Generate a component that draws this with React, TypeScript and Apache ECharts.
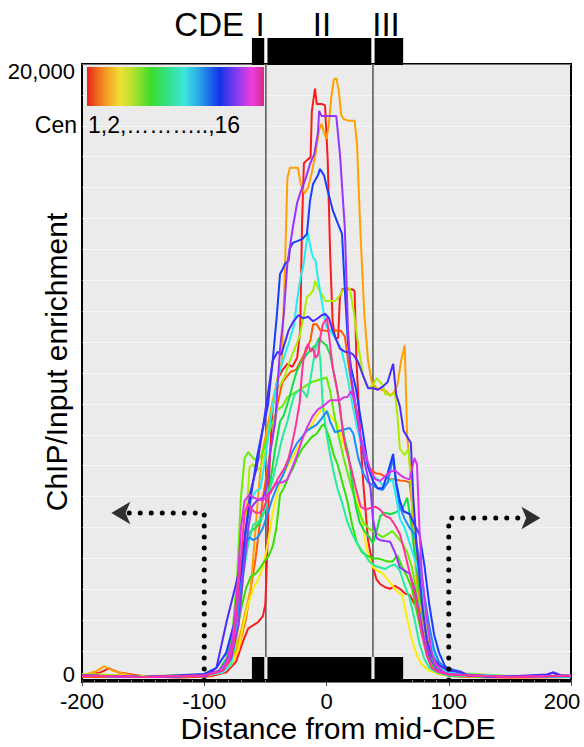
import React, { useEffect, useRef } from "react";
import * as echarts from "echarts";

// ---- axis / tick data ----
const xMin = -200;
const xMax = 200;
const xInterval = 100;
const yMin = -66;
const yMax = 20263;
const yTickValues = [0, 20000];
const yTickLabels = ["0", "20,000"];

// ---- CDE element boundaries (distance from mid-CDE) ----
const cdeEdges = [-61, -49.6, 38, 62.7];
const cdeLabels = ["I", "II", "III"];

// ---- dotted arrow paths ----
const leftArrowPath = [[-100, 0], [-100, 5493], [-163, 5493]];
const rightArrowPath = [[100, 0], [100, 5329], [163, 5329]];
const leftArrowTip = [[-176, 5493]];
const rightArrowTip = [[175, 5329]];

// ---- series ----
const cenNames = [
  "Cen1", "Cen2", "Cen3", "Cen4", "Cen5", "Cen6", "Cen7", "Cen8",
  "Cen9", "Cen10", "Cen11", "Cen12", "Cen13", "Cen14", "Cen15", "Cen16",
];
const cenColors = [
  "#ff1a1a", "#ff5a00", "#ffa200", "#ffee00", "#aaee00", "#66ee00", "#33e000", "#11dd44",
  "#22ee99", "#22eeee", "#1a8cff", "#1a3cff", "#4a2cff", "#9933ff", "#dd33ee", "#ff3399",
];

const cen1 = [[-200,120],[-185,250],[-178,380],[-170,250],[-150,120],[-120,80],[-95,120],[-82,250],[-74,600],[-68,1300],[-64,1700],[-60,1800],[-56,1900],[-52,2100],[-50,2500],[-48.5,4200],[-46.5,7200],[-44,9000],[-40,9900],[-36,10200],[-32,10400],[-28,10300],[-24,10600],[-21.5,11500],[-20,15000],[-18.5,17000],[-16,17100],[-13,17200],[-12,18700],[-11,19000],[-9.4,19450],[-8,18950],[-4,18950],[-1.2,18900],[1,17100],[3,14000],[5,11800],[7,11250],[9.5,11250],[11,12600],[13,12850],[21,12850],[23,12800],[24.5,10500],[27,8500],[30,6500],[34,4600],[38,3700],[41,3300],[44,3150],[48,3050],[52,3000],[56,3100],[60,3000],[64,2850],[68,2800],[72,2500],[76,2350],[80,1900],[84,1000],[88,500],[93,250],[100,130],[120,100],[150,80],[200,100]];
const cen2 = [[-200,100],[-150,100],[-100,130],[-86,250],[-78,500],[-72,1000],[-66,2000],[-62,3000],[-58,4000],[-55,5000],[-52,6000],[-48,7000],[-44,8000],[-40,9100],[-36,9800],[-32,10000],[-29,10150],[-25,10200],[-21,10500],[-17,10800],[-13,11200],[-11,11700],[-8,11700],[-5,11500],[-2,11500],[1,11480],[4,11500],[8,11500],[12,11480],[15,11300],[18,10400],[22,9300],[27,8100],[31,7300],[35,6980],[40,6800],[44,6780],[48,6700],[52,6600],[56,6600],[60,6560],[64,6550],[68,6500],[70,5800],[73,4500],[76,3000],[80,1800],[84,900],[88,500],[94,250],[100,150],[150,100],[200,100]];
const cen3 = [[-200,150],[-188,300],[-182,450],[-174,300],[-160,150],[-120,100],[-95,150],[-85,300],[-78,600],[-74,1000],[-70,1600],[-66,2300],[-62,3000],[-58,5000],[-55,6500],[-52,7600],[-48,8400],[-44,9200],[-40,9900],[-36.5,10500],[-34,13500],[-32,16500],[-30,16850],[-27,16850],[-23.5,16850],[-21,16300],[-18,16000],[-15,16200],[-12,16700],[-9,17300],[-6,18100],[-4,18300],[-2,18000],[0,17800],[2,18300],[4,19200],[6,19750],[8,19800],[10,19400],[12,18600],[14,18450],[18,18400],[23,18400],[25,17600],[26.5,16000],[28,14500],[31,12000],[34,10500],[37,9800],[41,9600],[45,9550],[49,9500],[52,9350],[55,9450],[58,9700],[61,10500],[64,11000],[66,8000],[68.4,7000],[71,4800],[74,3200],[78,1800],[82,900],[86,400],[92,200],[100,150],[120,100],[160,80],[200,100]];
const cen4 = [[-200,200],[-150,120],[-100,150],[-85,250],[-78,500],[-72,1000],[-68,1800],[-64,2500],[-60,3000],[-56,3300],[-52,3700],[-48,4500],[-44,5500],[-40,6200],[-36,6700],[-32,7000],[-28,7300],[-24,7600],[-20,7900],[-16,8200],[-12,8400],[-8,8700],[-3,8950],[1,8800],[5,8600],[9,8400],[13,7900],[17,7400],[21,6800],[25,6000],[29,5200],[33,4300],[38,3700],[42,3600],[46,3500],[50,3300],[54,3100],[58,2900],[62,2800],[66,2000],[70,1300],[74,800],[78,500],[84,300],[92,200],[100,150],[150,100],[200,120]];
const cen5 = [[-200,200],[-150,120],[-100,180],[-85,300],[-78,600],[-74,1200],[-70,2500],[-66,5000],[-63,7000],[-60,7100],[-57,6900],[-54,7000],[-50,7500],[-46,8600],[-42,9400],[-38,9700],[-34,10000],[-30,10500],[-26,10900],[-22,11300],[-19,11900],[-16,12600],[-13,12700],[-11,12800],[-9.4,13127],[-7,12900],[-4,12700],[-1,12470],[3,12470],[7,12470],[10,12600],[13,12800],[17,12900],[19,12880],[22,12200],[26,11000],[30,10000],[34,9600],[38,9700],[41,9930],[44,9800],[46,9700],[48,9400],[52,9400],[56,9400],[58,8700],[60,7600],[64,7400],[67,7600],[70,6000],[74,4200],[78,2900],[82,1800],[86,1000],[92,400],[100,250],[150,130],[200,150]];
const cen6 = [[-200,150],[-150,100],[-100,150],[-88,300],[-82,600],[-77,1500],[-73,3500],[-70,6000],[-67,7300],[-64,7500],[-60,7300],[-56,7200],[-52,7500],[-48,8000],[-44,8500],[-40,8900],[-36,9000],[-32,9300],[-28,9400],[-24,9500],[-20,9600],[-16,9700],[-12,9800],[-8,9850],[-4,9900],[0,9950],[3,9500],[6,8800],[10,8000],[14,7300],[18,6700],[22,6100],[26,5600],[30,5200],[34,5000],[38,4900],[42,4800],[46,4700],[50,4800],[54,4900],[58,4700],[62,4500],[66,4200],[70,3700],[74,2800],[78,1700],[82,1000],[87,500],[92,280],[100,170],[150,100],[200,130]];
const cen7 = [[-200,150],[-150,100],[-100,150],[-88,300],[-82,700],[-78,1100],[-74,1400],[-70,2300],[-66,3000],[-62,3400],[-58,3500],[-54,3700],[-51,3900],[-47,4100],[-44,4400],[-41,5000],[-38,6100],[-35,6300],[-31,6700],[-27,7000],[-24,7300],[-20,7600],[-16,7800],[-12,8000],[-8,8100],[-4,8350],[-2,8420],[2,8000],[6,7400],[9,7100],[13,6500],[17,5900],[21,5100],[25,4500],[29,4200],[33,4100],[38,4000],[42,4000],[46,3950],[50,3900],[54,3900],[58,4100],[62,3700],[66,3400],[70,3000],[74,2200],[78,1500],[82,900],[86,500],[92,250],[100,150],[150,100],[200,120]];
const cen8 = [[-200,150],[-150,100],[-100,150],[-88,300],[-82,700],[-76,1500],[-72,2700],[-68,4000],[-65,4700],[-62,4900],[-58,5000],[-54,5200],[-50,5700],[-46,6500],[-42,7600],[-38,8500],[-35,8700],[-31,9200],[-27,9800],[-24,10200],[-20,10500],[-16,10720],[-12,10900],[-9,11000],[-6,11250],[-3,11100],[0,11000],[3,10700],[6,10100],[9,9500],[12,8600],[15,7900],[18,7400],[21,6500],[24,5700],[27,5200],[31,4900],[35,4700],[38,4500],[41,4900],[44,5400],[48,5500],[52,5450],[56,5500],[60,5600],[63,5700],[66,6000],[69,5200],[72,4200],[76,3000],[80,1800],[84,900],[88,500],[94,250],[100,150],[150,100],[200,130]];
const cen9 = [[-200,150],[-150,100],[-100,150],[-88,250],[-82,500],[-76,1000],[-72,2000],[-68,3500],[-64,4500],[-60,5100],[-56,5200],[-52,5400],[-48,6000],[-44,6600],[-40,7300],[-36,8000],[-32,8500],[-29,9000],[-26,9400],[-22,9550],[-19,9500],[-16,9300],[-14,9700],[-11,10400],[-9,10900],[-7,11150],[-5,10500],[-3,9000],[0,8100],[3,7400],[6,6800],[9,6300],[13,5800],[17,5200],[21,4800],[25,4500],[30,4200],[35,3900],[40,3750],[44,3700],[48,3650],[52,3750],[56,3800],[60,3600],[64,3100],[68,2700],[72,2000],[76,1200],[80,700],[84,400],[90,250],[100,150],[150,100],[200,120]];
const cen10 = [[-200,150],[-150,100],[-100,150],[-85,250],[-78,500],[-74,1500],[-70,3000],[-66,4800],[-62,5900],[-58,6200],[-54,6300],[-50,7300],[-46,8500],[-42,9500],[-38,10200],[-34,10700],[-30,11200],[-27,11600],[-24,12500],[-21,13300],[-19,13600],[-17,14200],[-15.2,14706],[-13,14200],[-11,13900],[-9,13800],[-7,13200],[-4,12500],[-2,12000],[0,11600],[3,11500],[6,11300],[9,11100],[12,10900],[15,10400],[17,10000],[20,9300],[25,8300],[30,7500],[34,7000],[38,6700],[42,6600],[46,6400],[50,6500],[54,6600],[57,6000],[60,5300],[64,5000],[68,4500],[72,4000],[76,3500],[80,2500],[84,1500],[88,800],[94,400],[100,250],[110,200],[150,120],[200,100]];
const cen11 = [[-200,150],[-150,100],[-100,150],[-88,300],[-82,600],[-78,1000],[-74,1800],[-70,3000],[-66,4500],[-63,4700],[-60,4600],[-56,4700],[-52,5000],[-48,5500],[-44,6000],[-40,6400],[-36,6700],[-32,7100],[-28,7500],[-24,7800],[-20,8000],[-16,8200],[-12,8300],[-8,8400],[-4,8600],[0.4,8850],[3,8500],[7,8150],[11,8200],[15,8250],[19,8290],[22,8100],[26,7300],[30,6800],[34,6500],[38,6400],[42,6300],[46,6250],[50,6500],[54.5,7300],[57,6400],[60,5700],[64,5300],[68,5000],[72,4800],[76,4000],[80,2800],[84,1800],[88,1000],[92,600],[97,400],[103,350],[108,300],[114,180],[140,100],[200,120]];
const cen12 = [[-200,150],[-150,100],[-100,200],[-90,400],[-82,900],[-76,1800],[-70,3500],[-66,5000],[-62,6000],[-57,7300],[-52,8300],[-48,9000],[-44,10500],[-40.6,12000],[-38,13357],[-36,13500],[-34,13690],[-31,13800],[-29.9,14200],[-27.5,14380],[-23.4,14443],[-20,14500],[-16,14673],[-13.5,15760],[-11,16318],[-7,16600],[-5.3,16812],[-2,16600],[0.4,16187],[5.3,15430],[9.4,15002],[12.7,14673],[15.2,12700],[17.6,11054],[20,10300],[24,9600],[30,8093],[34,7000],[38,6547],[42,6300],[46,6317],[50,6800],[54.5,7435],[57,6500],[60,5900],[63,5550],[68,5460],[72,5100],[76,4800],[80,3800],[84,2500],[88,1500],[92,900],[97,450],[104,300],[110,250],[115,150],[140,100],[180,150],[185,250],[190,150],[200,120]];
const cen13 = [[-200,150],[-150,100],[-98,130],[-90,400],[-81.6,1940],[-73.4,3257],[-68.4,4244],[-64.3,5460],[-62.7,6119],[-57,7000],[-52,8300],[-48,9400],[-44,10500],[-40,10800],[-37,10700],[-34,11100],[-31,11500],[-27,11800],[-23,12000],[-19,11900],[-15,11950],[-11,11800],[-7,11900],[-4,12000],[-1,12040],[2,11900],[5,11500],[8,11200],[11,10900],[15,10800],[19,10780],[22,10700],[26,10450],[30,10000],[34,9600],[38,9600],[42,9550],[46,9650],[50,9800],[54.5,10400],[57,9400],[60,9000],[63,8200],[66,8000],[69,7800],[71,6000],[74,4300],[78,2600],[82,1300],[86,800],[92,500],[100,300],[110,270],[116,150],[140,100],[180,180],[186,250],[192,150],[200,120]];
const cen14 = [[-200,150],[-150,100],[-100,150],[-85,300],[-78,700],[-72,1800],[-68,3500],[-64,5000],[-61,5700],[-57,5900],[-52,6000],[-49,6300],[-46,7500],[-42,8500],[-38,10900],[-35,12000],[-32,13700],[-27.5,14900],[-24,15700],[-21.7,15990],[-17,16500],[-13.5,16976],[-10,17300],[-7,18000],[-6,18720],[-4,18550],[0,18550],[4,18550],[8,18556],[11,17300],[15,14870],[17.6,11500],[20,10000],[24,9000],[28,7900],[32,7000],[36,6300],[38,5300],[41,4670],[44,4600],[48,4570],[52,4550],[56,4200],[60,3700],[64,3600],[68,3500],[72,3000],[76,2200],[80,1300],[85,700],[90,350],[100,200],[150,100],[200,150]];
const cen15 = [[-200,150],[-150,100],[-100,150],[-88,300],[-82,600],[-77,1300],[-73,3000],[-70,5000],[-67,5900],[-63,6100],[-60,6000],[-56,5950],[-52,5900],[-48,6100],[-44,6300],[-40,6500],[-36,6500],[-32,6600],[-28,7000],[-24,7400],[-20,7900],[-16,8300],[-11,8700],[-7,8900],[-3,9000],[0,9100],[3,9200],[7,9200],[11,9200],[14,9300],[17,9300],[20,9500],[23,9200],[25,8800],[28,8000],[32,7400],[36,6900],[40,6600],[44,6550],[48,6700],[52,6850],[56,6900],[60,6750],[64,6650],[68,6600],[72,7300],[74,7100],[76,5000],[78,3500],[82,2000],[86,900],[90,500],[96,250],[100,180],[150,100],[200,150]];
const cen16 = [[-200,150],[-150,100],[-100,150],[-85,300],[-80,600],[-76,1200],[-73,2500],[-70,4000],[-67,5500],[-64,5800],[-61,5600],[-58,5500],[-55,5500],[-52,5600],[-48,6000],[-44,6300],[-40,6600],[-37,6800],[-34,7000],[-31,7300],[-28,7800],[-25,8400],[-22,9100],[-20,10100],[-19,10500],[-17,10900],[-15,11050],[-13,10800],[-11,10900],[-9,10600],[-7,10700],[-5,11300],[-3,11700],[0.4,11910],[3,11000],[5,10300],[8,9700],[11,9000],[13.5,8100],[16,7600],[20,7000],[24,6300],[28,5700],[32,5600],[36,5660],[40,5700],[44,5600],[48,5400],[52,5330],[56,5100],[60,4800],[64,4200],[67,3700],[70,3200],[74,2500],[78,1500],[82,800],[86,400],[92,250],[100,180],[150,100],[200,130]];

const cenData = [cen1, cen2, cen3, cen4, cen5, cen6, cen7, cen8, cen9, cen10, cen11, cen12, cen13, cen14, cen15, cen16];

const FONT = "'Liberation Sans', Arial, Helvetica, sans-serif";

export default function App() {
  const ref = useRef<HTMLDivElement>(null);

  useEffect(() => {
    if (!ref.current) return;
    const chart = echarts.init(ref.current, undefined, { renderer: "svg" });

    const lineSeries = cenData.map((d, i) => ({
      name: cenNames[i],
      type: "line",
      data: d,
      showSymbol: false,
      symbol: "none",
      lineStyle: { color: cenColors[i], width: 2 },
      z: 2,
      silent: true,
    }));

    const option: any = {
      animation: false,
      backgroundColor: "#ffffff",
      grid: {
        left: 82,
        right: 13,
        top: 64,
        bottom: 65,
        show: true,
        backgroundColor: "#ebebeb",
        borderColor: "#000",
        borderWidth: 2,
        containLabel: false,
        outerBoundsMode: "none",
      },
      xAxis: {
        type: "value",
        min: xMin,
        max: xMax,
        interval: xInterval,
        axisLine: { show: true, lineStyle: { color: "#000", width: 2 } },
        axisTick: { show: true, inside: false, length: 6, lineStyle: { color: "#444", width: 1 } },
        minorTick: { show: true, splitNumber: 10, length: 3, lineStyle: { color: "#777", width: 1 } },
        splitLine: { show: false },
        minorSplitLine: { show: false },
        axisLabel: {
          fontSize: 22,
          color: "#000",
          margin: 8,
          fontFamily: FONT,
          formatter: (v: number) => (v === xMax ? "{e|" + v + "}" : "{n|" + v + "}"),
          rich: {
            n: { fontSize: 22, fontFamily: FONT, color: "#000" },
            e: { fontSize: 22, fontFamily: FONT, color: "#000", padding: [0, 18, 0, 0] },
          },
        },
      },
      yAxis: [
        {
          type: "value",
          min: yMin,
          max: yMax,
          axisLine: { show: false },
          axisTick: { show: false },
          splitLine: { show: false },
          axisLabel: {
            customValues: yTickValues,
            fontSize: 22,
            color: "#000",
            margin: 7,
            fontFamily: FONT,
            formatter: (v: number) => {
              const idx = yTickValues.indexOf(v);
              const t = idx >= 0 ? yTickLabels[idx] : "";
              return v === 0 ? "{z|" + t + "}" : "{m|" + t + "}";
            },
            rich: {
              z: { fontSize: 22, fontFamily: FONT, color: "#000", padding: [0, 0, 10, 0] },
              m: { fontSize: 22, fontFamily: FONT, color: "#000" },
            },
          },
        },
        {
          type: "value",
          min: 0,
          max: 20000,
          interval: 1000,
          position: "right",
          axisLine: { show: false },
          axisTick: { show: false },
          axisLabel: { show: false },
          splitLine: { show: true, lineStyle: { color: "rgba(255,255,255,0.45)", width: 1 } },
        },
      ],
      series: [
        {
          name: "cde-guides",
          type: "custom",
          data: [[cdeEdges[1]], [cdeEdges[2]]],
          encode: { x: 0 },
          clip: false,
          silent: true,
          z: 1,
          renderItem: (params: any, api: any) => {
            const cs = params.coordSys;
            const x = api.coord([api.value(0), 0])[0];
            return {
              type: "line",
              shape: { x1: x, y1: cs.y, x2: x, y2: cs.y + cs.height - 25 },
              style: { stroke: "#555", lineWidth: 1.5 },
            };
          },
        },
        ...lineSeries,
        {
          name: "cde-bars",
          type: "custom",
          data: [
            [cdeEdges[0], cdeEdges[1]],
            [cdeEdges[1], cdeEdges[2]],
            [cdeEdges[2], cdeEdges[3]],
          ],
          encode: { x: [0, 1] },
          clip: false,
          silent: true,
          z: 5,
          renderItem: (params: any, api: any) => {
            const cs = params.coordSys;
            const i = params.dataIndex;
            const gap = 1.6;
            const x0 = api.coord([api.value(0), 0])[0] + (i > 0 ? gap : 0);
            const x1 = api.coord([api.value(1), 0])[0] - (i < 2 ? gap : 0);
            const yb = cs.y + cs.height;
            const yt = cs.y;
            return {
              type: "group",
              children: [
                { type: "rect", shape: { x: x0, y: yb - 25, width: x1 - x0, height: 25 }, style: { fill: "#000" } },
                { type: "rect", shape: { x: x0, y: yt - 26, width: x1 - x0, height: 27 }, style: { fill: "#000" } },
              ],
            };
          },
        },
        {
          name: "left-dots",
          type: "line",
          data: leftArrowPath,
          showSymbol: false,
          symbol: "none",
          silent: true,
          z: 6,
          lineStyle: { color: "#000", width: 5, type: [0, 11], cap: "round" },
        },
        {
          name: "right-dots",
          type: "line",
          data: rightArrowPath,
          showSymbol: false,
          symbol: "none",
          silent: true,
          z: 6,
          lineStyle: { color: "#000", width: 5, type: [0, 11], cap: "round" },
        },
        {
          name: "left-arrow",
          type: "scatter",
          data: leftArrowTip,
          symbol: "arrow",
          symbolSize: [17, 19],
          symbolRotate: 90,
          itemStyle: { color: "#000" },
          silent: true,
          z: 6,
        },
        {
          name: "right-arrow",
          type: "scatter",
          data: rightArrowTip,
          symbol: "arrow",
          symbolSize: [17, 19],
          symbolRotate: -90,
          itemStyle: { color: "#000" },
          silent: true,
          z: 6,
        },
      ],
      graphic: [
        {
          type: "rect",
          z: 10,
          shape: { x: 87, y: 67, width: 177, height: 39 },
          style: {
            fill: new echarts.graphic.LinearGradient(0, 0, 1, 0, [
              { offset: 0, color: "#e8201c" },
              { offset: 0.06, color: "#f06a1e" },
              { offset: 0.12, color: "#f5a623" },
              { offset: 0.19, color: "#eee234" },
              { offset: 0.27, color: "#a8e22e" },
              { offset: 0.36, color: "#3ddc2a" },
              { offset: 0.46, color: "#33e08a" },
              { offset: 0.55, color: "#3ee8dc" },
              { offset: 0.63, color: "#2aa8e8" },
              { offset: 0.75, color: "#1232e8" },
              { offset: 0.85, color: "#8a3cf0" },
              { offset: 0.93, color: "#f03ce0" },
              { offset: 1, color: "#d42e8a" },
            ]),
          },
        },
        {
          type: "text", z: 10, x: 77, y: 125,
          style: { text: "Cen", fontSize: 23, fontFamily: FONT, fill: "#000", textAlign: "right", textVerticalAlign: "middle" },
        },
        {
          type: "text", z: 10, x: 88, y: 125,
          style: { text: "1,2,………..,16", fontSize: 23, fontFamily: FONT, fill: "#000", textAlign: "left", textVerticalAlign: "middle" },
        },
        {
          type: "text", z: 10, x: 244, y: 24,
          style: { text: "CDE", fontSize: 33, fontFamily: FONT, fill: "#000", textAlign: "right", textVerticalAlign: "middle" },
        },
        {
          type: "text", z: 10, x: 260, y: 24,
          style: { text: cdeLabels[0], fontSize: 33, fontFamily: FONT, fill: "#000", textAlign: "center", textVerticalAlign: "middle" },
        },
        {
          type: "text", z: 10, x: 322, y: 24,
          style: { text: cdeLabels[1], fontSize: 33, fontFamily: FONT, fill: "#000", textAlign: "center", textVerticalAlign: "middle" },
        },
        {
          type: "text", z: 10, x: 386, y: 24,
          style: { text: cdeLabels[2], fontSize: 33, fontFamily: FONT, fill: "#000", textAlign: "center", textVerticalAlign: "middle" },
        },
        {
          type: "text", z: 10, x: 56, y: 362, rotation: Math.PI / 2,
          style: { text: "ChIP/Input enrichment", fontSize: 30, fontFamily: FONT, fill: "#000", textAlign: "center", textVerticalAlign: "middle" },
        },
        {
          type: "text", z: 10, x: 338, y: 728,
          style: { text: "Distance from mid-CDE", fontSize: 30, fontFamily: FONT, fill: "#000", textAlign: "center", textVerticalAlign: "middle" },
        },
      ],
    };

    chart.setOption(option);
    return () => {
      chart.dispose();
    };
  }, []);

  return (
    <div
      ref={ref}
      style={{ position: "absolute", left: 0, top: 0, width: 584, height: 747 }}
    />
  );
}
